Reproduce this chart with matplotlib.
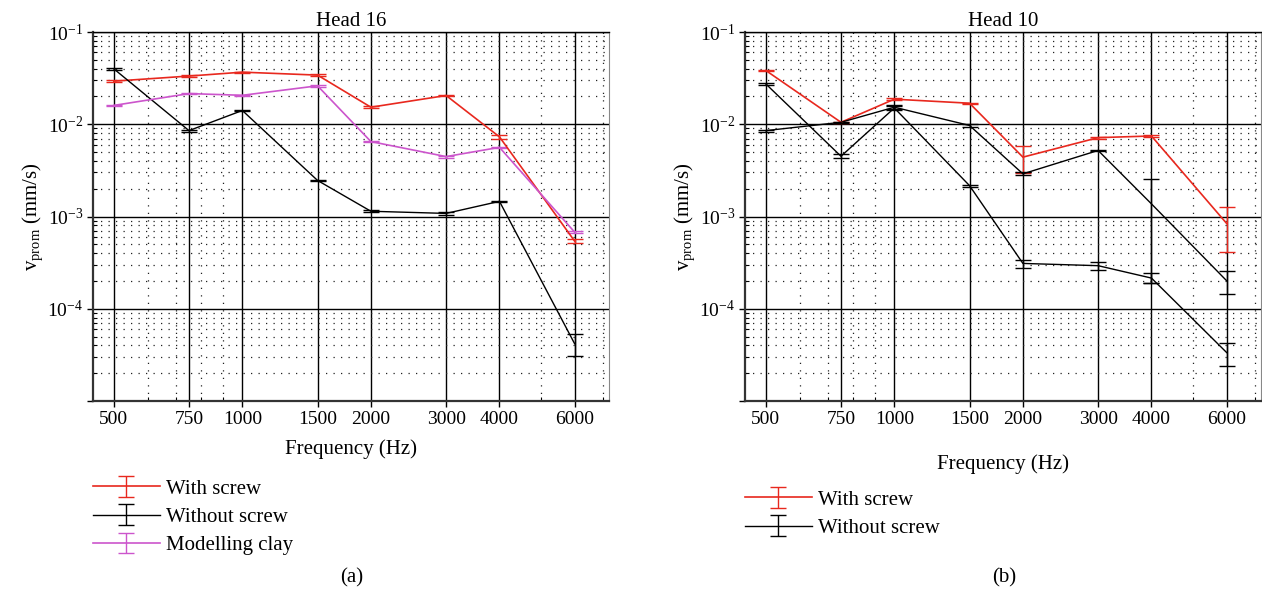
import numpy as np
import matplotlib
matplotlib.use("Agg")
import matplotlib.pyplot as plt
from matplotlib.ticker import FixedLocator, NullFormatter, LogLocator

plt.rcParams['font.family'] = ['Liberation Serif', 'DejaVu Serif']
plt.rcParams['mathtext.fontset'] = 'custom'
plt.rcParams['mathtext.rm'] = 'Liberation Serif'
plt.rcParams['mathtext.it'] = 'Liberation Serif:italic'

# frequencies (Hz)
freq = [500, 750, 1000, 1500, 2000, 3000, 4000, 6000]
minor_freq = [600, 700, 800, 900, 5000, 7000]

# Head 16
h16_with = [0.0293, 0.0333, 0.0367, 0.0341, 0.0153, 0.0205, 0.0073, 0.00054]
h16_with_err = [0.0006, 0.0006, 0.0006, 0.0006, 0.0003, 0.0004, 0.0004, 0.000027]
h16_without = [0.0399, 0.00853, 0.0141, 0.00246, 0.00114, 0.00108, 0.00146, 4.17e-5]
h16_without_err = [0.0008, 0.0002, 0.0003, 0.00005, 0.00003, 0.00004, 0.00003, 1.09e-5]
h16_clay = [0.0160, 0.0215, 0.0206, 0.0261, 0.00649, 0.00446, 0.00562, 0.000676]
h16_clay_err = [0.0003, 0.0004, 0.0004, 0.0005, 0.0001, 0.0001, 0.0001, 0.00002]

# Head 10
h10_with = [0.0383, 0.0105, 0.0187, 0.0169, 0.00440, 0.00716, 0.00746, 0.00084]
h10_with_err = [0.0008, 0.0002, 0.0004, 0.0003, 0.00147, 0.0002, 0.0002, 0.00043]
h10_without_a = [0.0274, 0.0045, 0.0150, 0.00216, 0.00031, 0.000293, 0.000215, 3.35e-5]
h10_without_a_err = [0.0007, 0.0002, 0.0008, 0.00006, 0.000031, 0.000028, 0.000027, 9.3e-6]
h10_without_b = [0.00853, 0.0105, 0.0153, 0.0097, 0.0029, 0.0052, 0.00137, 0.000201]
h10_without_b_err = [0.0002, 0.0002, 0.0008, 0.0003, 0.0001, 0.0001, 0.00118, 5.8e-5]

RED = '#e8281e'
MAG = '#cc55cc'

W, H = 1262, 597
fig = plt.figure(figsize=(W / 100, H / 100), dpi=100)

def px_axes(x0, x1, ytop, ybot):
    return fig.add_axes([x0 / W, 1 - ybot / H, (x1 - x0) / W, (ybot - ytop) / H])

def style(ax, title):
    ax.set_xscale('log')
    ax.set_yscale('log')
    ax.set_xlim(447, 7220)
    ax.set_ylim(1e-5, 1e-1)
    ax.xaxis.set_major_locator(FixedLocator(freq))
    ax.xaxis.set_minor_locator(FixedLocator(minor_freq))
    ax.set_xticklabels([str(f) for f in freq])
    ax.xaxis.set_minor_formatter(NullFormatter())
    ax.yaxis.set_major_locator(FixedLocator([1e-5, 1e-4, 1e-3, 1e-2, 1e-1]))
    ax.yaxis.set_minor_locator(LogLocator(base=10, subs=np.arange(2, 10), numticks=20))
    ax.yaxis.set_minor_formatter(NullFormatter())
    ax.set_yticklabels(['', r'$10^{-4}$', r'$10^{-3}$', r'$10^{-2}$', r'$10^{-1}$'])
    ax.grid(which='major', color='black', linewidth=1.0, linestyle='-')
    ax.grid(which='minor', color='#222222', linewidth=0.9, linestyle=(0, (1, 5)))
    ax.tick_params(which='major', direction='out', length=4, width=1, labelsize=14, pad=3)
    ax.tick_params(which='minor', direction='in', length=3, width=0.8)
    ax.spines['left'].set_linewidth(1.6)
    ax.spines['bottom'].set_linewidth(1.6)
    ax.spines['left'].set_color('#333333')
    ax.spines['bottom'].set_color('#333333')
    ax.spines['top'].set_linewidth(1.0)
    ax.spines['right'].set_linewidth(0.8)
    ax.spines['right'].set_color('#888888')
    ax.set_title(title, fontsize=15, pad=4)
    ax.set_ylabel(r'v$_{\mathrm{prom}}$ (mm/s)', fontsize=15, labelpad=2)

ekw = dict(capsize=6, elinewidth=1.0, capthick=1.0)
lkw = dict(frameon=False, fontsize=15, handlelength=3.2, handletextpad=0.3,
           labelspacing=0.42, borderpad=0, borderaxespad=0)

# (a) Head 16
ax1 = px_axes(93, 609, 32, 401)
style(ax1, 'Head 16')
e1 = ax1.errorbar(freq, h16_with, yerr=h16_with_err, color=RED, lw=1.2, label='With screw', **ekw)
e2 = ax1.errorbar(freq, h16_without, yerr=h16_without_err, color='black', lw=1.0, label='Without screw', **ekw)
e3 = ax1.errorbar(freq, h16_clay, yerr=h16_clay_err, color=MAG, lw=1.2, label='Modelling clay', **ekw)
ax1.set_xlabel('Frequency (Hz)', fontsize=15, labelpad=8)
fig.legend(handles=[e1, e2, e3], loc='upper left', bbox_to_anchor=(93 / W, 1 - 479 / H), **lkw)
fig.text(352 / W, 1 - 578 / H, '(a)', fontsize=15, ha='center', va='center')

# (b) Head 10
ax2 = px_axes(745, 1261, 32, 401)
style(ax2, 'Head 10')
f1 = ax2.errorbar(freq, h10_with, yerr=h10_with_err, color=RED, lw=1.2, label='With screw', **ekw)
f2 = ax2.errorbar(freq, h10_without_a, yerr=h10_without_a_err, color='black', lw=1.0, label='Without screw', **ekw)
ax2.errorbar(freq, h10_without_b, yerr=h10_without_b_err, color='black', lw=1.0, **ekw)
ax2.set_xlabel('Frequency (Hz)', fontsize=15, labelpad=19)
fig.legend(handles=[f1, f2], loc='upper left', bbox_to_anchor=(745 / W, 1 - 490 / H), **lkw)
fig.text(1004 / W, 1 - 578 / H, '(b)', fontsize=15, ha='center', va='center')

fig.savefig('out.png', dpi=100)
